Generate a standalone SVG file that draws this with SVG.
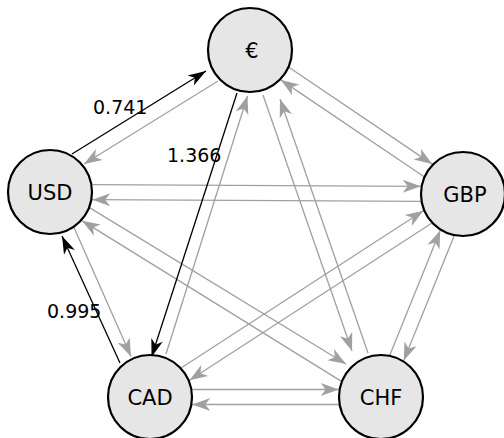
<svg xmlns="http://www.w3.org/2000/svg" width="504" height="438" viewBox="0 0 504 438">
<style>
.node circle{fill:#e6e6e6;stroke:#000;stroke-width:2.2}
.node text{font-family:"DejaVu Sans",sans-serif;font-size:21px;text-anchor:middle;fill:#000}
.g{stroke:#a0a0a0;stroke-width:1.3;fill:none;marker-end:url(#ag)}
.b{stroke:#000;stroke-width:1.3;fill:none;marker-end:url(#ab)}
.lbl{font-family:"DejaVu Sans",sans-serif;font-size:19px;fill:#000}
</style>
<defs>
<marker id="ag" markerUnits="userSpaceOnUse" markerWidth="20" markerHeight="20" refX="0" refY="0" orient="auto" overflow="visible">
<path d="M0,0 L-18,-6.5 L-13,0 L-18,6.5 Z" fill="#a0a0a0"/>
</marker>
<marker id="ab" markerUnits="userSpaceOnUse" markerWidth="20" markerHeight="20" refX="0" refY="0" orient="auto" overflow="visible">
<path d="M0,0 L-18,-6 L-13,0 L-18,6 Z" fill="#000"/>
</marker>
</defs>
<g id="connectors">
<line class="g" x1="218" y1="81" x2="84" y2="164"/>
<line class="g" x1="289.24" y1="67.48" x2="432.16" y2="164.10"/>
<line class="g" x1="423.76" y1="176.52" x2="280.84" y2="79.90"/>
<line class="g" x1="92.34" y1="184.70" x2="420.74" y2="186.30"/>
<line class="g" x1="420.66" y1="201.30" x2="92.26" y2="199.71"/>
<line class="g" x1="74" y1="227.5" x2="131" y2="356.5"/>
<line class="g" x1="89.91" y1="207.89" x2="346" y2="364"/>
<line class="g" x1="341.09" y1="381.11" x2="82.01" y2="220.65"/>
<line class="g" x1="166" y1="354" x2="247.5" y2="96"/>
<line class="g" x1="263" y1="95" x2="352" y2="351"/>
<line class="g" x1="368" y1="353" x2="280" y2="99"/>
<line class="g" x1="454.11" y1="236.03" x2="403.79" y2="360.59"/>
<line class="g" x1="389.89" y1="354.97" x2="440.21" y2="230.41"/>
<line class="g" x1="181.41" y1="367.69" x2="423.43" y2="210.73"/>
<line class="g" x1="431.59" y1="223.31" x2="189.57" y2="380.27"/>
<line class="g" x1="192.3" y1="389.5" x2="338.7" y2="389.5"/>
<line class="g" x1="338.7" y1="404.5" x2="192.3" y2="404.5"/>
<line class="b" x1="72" y1="154" x2="206" y2="71"/>
<line class="b" x1="237" y1="93" x2="151.5" y2="357"/>
<line class="b" x1="120" y1="363" x2="62" y2="236"/>
</g>
<g id="labels">
<text class="lbl" x="93" y="114">0.741</text>
<text class="lbl" x="167" y="162">1.366</text>
<text class="lbl" x="47" y="318">0.995</text>
</g>
<g id="node-eur" class="node"><circle cx="250" cy="50" r="42"/><text x="252" y="57.5">€</text></g>
<g id="node-usd" class="node"><circle cx="50" cy="192" r="42"/><text x="50" y="199.5">USD</text></g>
<g id="node-gbp" class="node"><circle cx="463" cy="194" r="42"/><text x="465" y="201.5">GBP</text></g>
<g id="node-cad" class="node"><circle cx="150" cy="397" r="42"/><text x="150" y="404.5">CAD</text></g>
<g id="node-chf" class="node"><circle cx="381" cy="397" r="42"/><text x="381" y="404.5">CHF</text></g>
</svg>
